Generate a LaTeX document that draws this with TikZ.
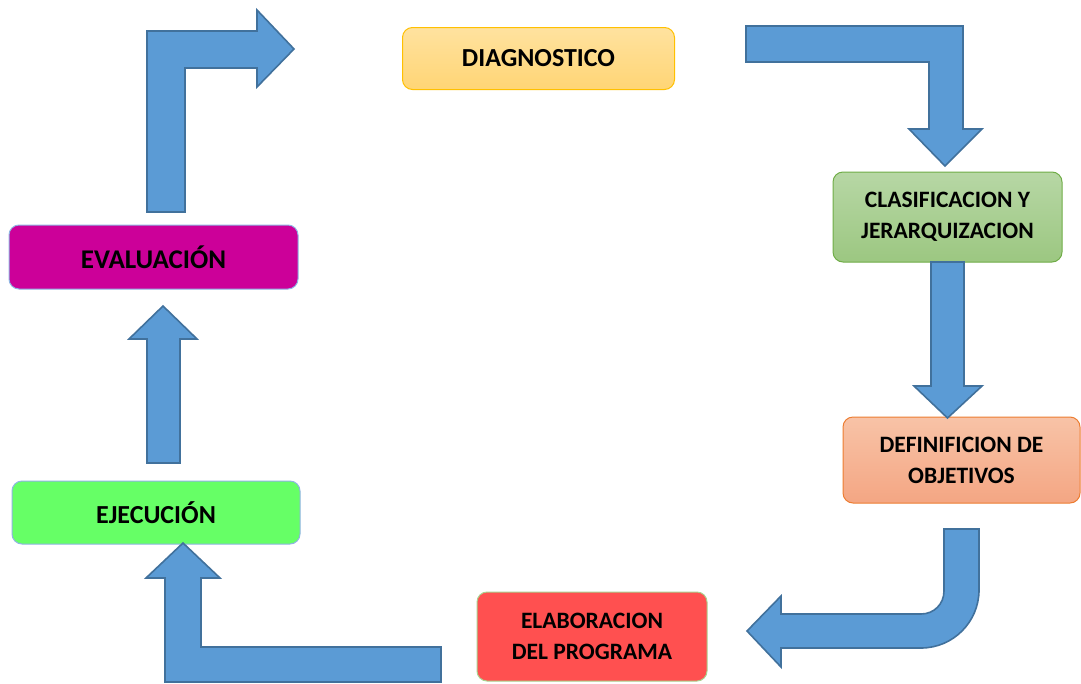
\documentclass[tikz,border=0pt]{standalone}
\usepackage{fontspec}
\setmainfont{Carlito}
\definecolor{arrfill}{HTML}{5B9BD5}
\definecolor{arrline}{HTML}{41719C}
\definecolor{diagtop}{HTML}{FFE29F}
\definecolor{diagbot}{HTML}{FFD575}
\definecolor{diagline}{HTML}{FFC000}
\definecolor{clastop}{HTML}{B7D7A5}
\definecolor{clasbot}{HTML}{9CC781}
\definecolor{clasline}{HTML}{70AD47}
\definecolor{defitop}{HTML}{F8C3A7}
\definecolor{defibot}{HTML}{F4A683}
\definecolor{defiline}{HTML}{ED7D31}
\definecolor{elabfill}{HTML}{FF5050}
\definecolor{elabline}{HTML}{A9D18E}
\definecolor{ejecfill}{HTML}{66FF66}
\definecolor{evalfill}{HTML}{CC0099}
\definecolor{boxblue}{HTML}{8FB4E3}
\begin{document}
\begin{tikzpicture}[x=1pt,y=-1pt,
  stagebox/.style={rectangle, rounded corners=10pt, line width=1pt, inner sep=0pt,
    align=center, font=\fontsize{26}{31}\selectfont\bfseries, text=black},
  twoline/.style={font=\fontsize{23.5}{31}\selectfont\bfseries},
  blockarrow/.style={fill=arrfill, draw=arrline, line width=1.6pt, line join=miter}]
\useasboundingbox (0,0) rectangle (1081,683);
\fill[white] (0,0) rectangle (1081,683);
% stages
\node[stagebox, top color=diagtop, bottom color=diagbot, draw=diagline,
  minimum width=272pt, minimum height=62pt] (diag) at (538.5,58.5) {DIAGNOSTICO};
\node[stagebox, twoline, top color=clastop, bottom color=clasbot, draw=clasline,
  minimum width=229pt, minimum height=90pt] (clas) at (947.5,217) {CLASIFICACION Y\\JERARQUIZACION};
\node[stagebox, twoline, top color=defitop, bottom color=defibot, draw=defiline,
  minimum width=237pt, minimum height=86pt] (defi) at (961.5,460) {DEFINIFICION DE\\OBJETIVOS};
\node[stagebox, twoline, fill=elabfill, draw=elabline,
  minimum width=230pt, minimum height=89pt] (elab) at (592,636.5) {ELABORACION\\DEL PROGRAMA};
\node[stagebox, fill=ejecfill, draw=boxblue,
  minimum width=288pt, minimum height=63pt] (ejec) at (156,512.5) {EJECUCIÓN};
\node[stagebox, font=\fontsize{27}{31}\selectfont\bfseries, fill=evalfill, draw=boxblue,
  minimum width=289pt, minimum height=64pt] (eval) at (153.5,257) {EVALUACIÓN};
% block arrows
% evaluacion -> diagnostico
\draw[blockarrow] (147,212) -- (147,31) -- (257,31) -- (257,10) -- (294,49)
  -- (257,87) -- (257,68) -- (185,68) -- (185,212) -- cycle;
% diagnostico -> clasificacion
\draw[blockarrow] (746,26) -- (963,26) -- (963,129) -- (982,129) -- (945,166)
  -- (909,129) -- (929,129) -- (929,62) -- (746,62) -- cycle;
% clasificacion -> definicion
\draw[blockarrow] (931,262) -- (964,262) -- (964,386) -- (982,386) -- (947.5,418)
  -- (914,386) -- (931,386) -- cycle;
% definicion -> elaboracion
\draw[blockarrow] (944,529) -- (979,529) -- (979,590)
  .. controls (979,622) and (953,648) .. (921,648)
  -- (781,648) -- (781,667) -- (747,631) -- (781,596) -- (781,614) -- (921,614)
  .. controls (934,614) and (944,604) .. (944,591) -- cycle;
% elaboracion -> ejecucion
\draw[blockarrow] (441,647) -- (441,682) -- (165,682) -- (165,578) -- (146,578)
  -- (183,543) -- (220,578) -- (201,578) -- (201,647) -- cycle;
% ejecucion -> evaluacion
\draw[blockarrow] (147,463) -- (147,339) -- (129,339) -- (163,306) -- (197,339)
  -- (180,339) -- (180,463) -- cycle;
\end{tikzpicture}
\end{document}
